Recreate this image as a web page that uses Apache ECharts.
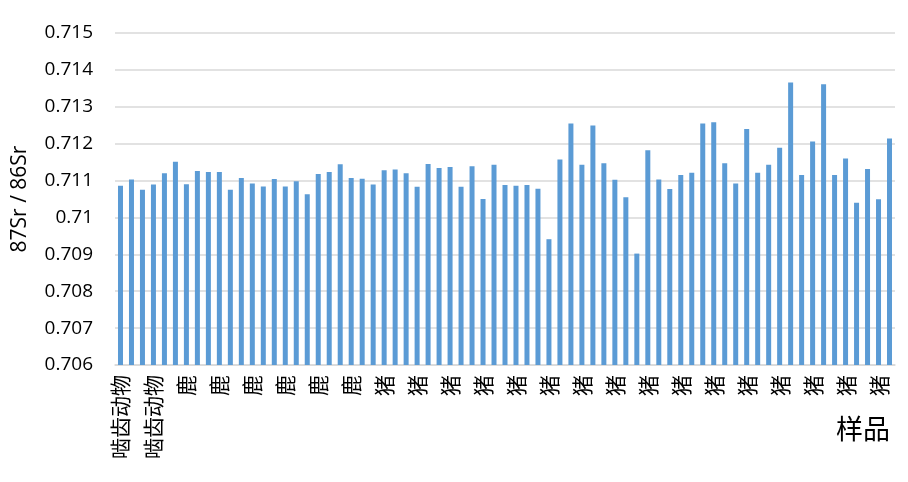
<!DOCTYPE html>
<html>
<head>
<meta charset="utf-8">
<script src="https://cdn.jsdelivr.net/npm/echarts@6/dist/echarts.min.js"></script>
<style>
  html, body { margin: 0; padding: 0; background: #fff; }
  #main { width: 908px; height: 482px; }
</style>
</head>
<body>
<div id="main"></div>
<script>
// 样品类别（每个样品一根柱子）
var rodent = ['啮齿动物', '啮齿动物', '啮齿动物', '啮齿动物', '啮齿动物', '啮齿动物']
var deer = ['鹿', '鹿', '鹿', '鹿', '鹿', '鹿', '鹿', '鹿', '鹿',
            '鹿', '鹿', '鹿', '鹿', '鹿', '鹿', '鹿', '鹿', '鹿']
var pig = ['猪', '猪', '猪', '猪', '猪', '猪', '猪', '猪', '猪', '猪',
           '猪', '猪', '猪', '猪', '猪', '猪', '猪', '猪', '猪', '猪',
           '猪', '猪', '猪', '猪', '猪', '猪', '猪', '猪', '猪', '猪',
           '猪', '猪', '猪', '猪', '猪', '猪', '猪', '猪', '猪', '猪',
           '猪', '猪', '猪', '猪', '猪', '猪', '猪']
var samples = rodent.concat(deer, pig)

// 87Sr/86Sr 比值
var ratioRodent = [0.71086, 0.71103, 0.71075, 0.71089, 0.71120, 0.71151]
var ratioDeer = [0.71090, 0.71126, 0.71123, 0.71123, 0.71075, 0.71107,
                 0.71092, 0.71084, 0.71104, 0.71084, 0.71098, 0.71063,
                 0.71118, 0.71123, 0.71144, 0.71107, 0.71105, 0.71089]
var ratioPig = [0.71128, 0.71130, 0.71120, 0.71083, 0.71145, 0.71134,
                0.71137, 0.71083, 0.71139, 0.71050, 0.71143, 0.71088,
                0.71086, 0.71088, 0.71078, 0.70941, 0.71157, 0.71255,
                0.71143, 0.71249, 0.71147, 0.71102, 0.71055, 0.70902,
                0.71182, 0.71103, 0.71077, 0.71115, 0.71121, 0.71255,
                0.71258, 0.71147, 0.71092, 0.71240, 0.71121, 0.71143,
                0.71189, 0.71366, 0.71115, 0.71206, 0.71361, 0.71115,
                0.71160, 0.71040, 0.71131, 0.71049, 0.71214]
var ratios = ratioRodent.concat(ratioDeer, ratioPig)

var myChart = echarts.init(document.getElementById('main'))

var options = {
  animation: false,
  grid: { left: 115, right: 13, top: 33, bottom: 117 },
  xAxis: {
    type: 'category',
    data: samples,
    name: '样品',
    nameLocation: 'end',
    nameGap: 0,
    nameTextStyle: {
      fontFamily: 'Noto Sans CJK SC',
      fontSize: 27,
      color: '#000',
      align: 'right',
      verticalAlign: 'top',
      padding: [50, 5, 0, 0]
    },
    axisLine: { lineStyle: { color: '#d9d9d9', width: 1.5 } },
    axisTick: { show: false },
    axisLabel: {
      interval: 2,
      rotate: 90,
      margin: 10,
      fontFamily: 'Noto Sans CJK SC',
      fontSize: 21,
      color: '#000'
    }
  },
  yAxis: {
    type: 'value',
    min: 0.706,
    max: 0.715,
    interval: 0.001,
    name: '87Sr / 86Sr',
    nameLocation: 'middle',
    nameGap: 84,
    nameTextStyle: { fontFamily: 'Open Sans', fontSize: 21, color: '#000' },
    axisLine: { show: false },
    axisTick: { show: false },
    axisLabel: {
      margin: 22,
      fontFamily: 'Open Sans',
      fontSize: 19,
      color: '#000',
      formatter: function (v) { return String(+v.toFixed(3)) }
    },
    splitLine: { lineStyle: { color: '#d9d9d9', width: 1.5 } }
  },
  series: [{
    type: 'bar',
    data: ratios,
    barWidth: 5,
    itemStyle: { color: '#5b9bd5' }
  }]
}
myChart.setOption(options)
</script>
</body>
</html>
